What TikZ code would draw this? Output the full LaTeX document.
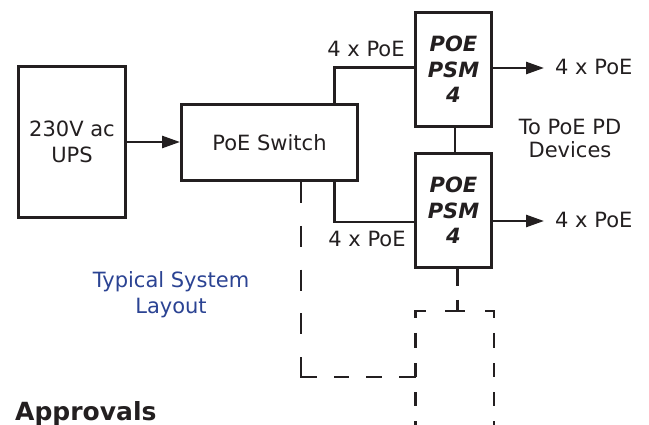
\documentclass[tikz,border=0pt]{standalone}
\usepackage{fontspec}
\setmainfont{DejaVu Sans}
\usetikzlibrary{arrows.meta}
\definecolor{ink}{RGB}{35,31,32}
\definecolor{navy}{RGB}{43,67,147}
\begin{document}
\begin{tikzpicture}[x=1pt,y=-1pt,
  box/.style={draw=ink, line width=2.6pt, inner sep=0pt, align=center, text=ink, font=\fontsize{21}{26}\selectfont},
  psm/.style={box, minimum width=76.4pt, minimum height=114.4pt, font=\fontsize{21}{25.5}\selectfont\bfseries\itshape},
  conn/.style={draw=ink, line width=2.6pt, line join=miter},
  arr/.style={conn, -{Triangle[length=18pt,width=12pt]}},
  lbl/.style={text=ink, inner sep=0pt, font=\fontsize{21}{23}\selectfont},
]
\useasboundingbox (0,0) rectangle (649,425);
\fill[white] (0,0) rectangle (649,425);

% blocks
\node[box, minimum width=107.4pt, minimum height=151.4pt] (ups) at (72,142) {230V ac\\UPS};
\node[box, minimum width=176.4pt, minimum height=76.4pt] (sw) at (269.5,142.5) {PoE Switch};
\node[psm] (pa) at (453.5,69.5) {POE\\PSM\\4};
\node[psm] (pb) at (453.5,210.5) {POE\\PSM\\4};

% solid connectors
\draw[arr] (ups.east) -- (ups.east -| sw.west);
\draw[conn] ([xshift=-24.7pt]sw.north east) |- ([yshift=2pt]pa.west);
\draw[conn] ([xshift=-24.7pt]sw.south east) |- ([yshift=-11.5pt]pb.west);
\draw[conn] ([xshift=1.5pt]pa.south) -- ([xshift=1.5pt]pb.north);

\coordinate (ta) at (544,68);
\coordinate (tb) at (544,221);
\draw[arr] (pa.east |- ta) -- (ta);
\draw[arr] (pb.east |- tb) -- (tb);

% labels
\node[lbl, anchor=base] (l1) at (366,57) {4 x PoE};
\node[lbl, anchor=base] (l2) at (367,246.5) {4 x PoE};
\node[lbl, anchor=base west] (o1) at (555,75) {4 x PoE};
\node[lbl, anchor=base west] (o2) at (555,228) {4 x PoE};
\node[lbl, align=center] (to) at (570,138) {To PoE PD\\Devices};
\node[lbl, align=center, text=navy, font=\fontsize{21}{26}\selectfont] (tsl) at (171,294.5) {Typical System\\Layout};
\node[lbl, anchor=base west, font=\fontsize{25}{30}\selectfont\bfseries] (appr) at (15,420) {Approvals};

% dashed expansion
\coordinate (dc) at (301,377);
\coordinate (bl) at (415.5,311);
\coordinate (br) at (494,311);
\coordinate (bot) at (0,426);
\coordinate (tj) at (457.7,311);
\draw[conn, dash pattern=on 21pt off 22.8pt on 21pt off 22.8pt on 21pt off 22.8pt on 21pt off 22.8pt on 36pt off 17pt on 15pt off 17pt on 16pt off 17pt on 20pt]
  (sw.south -| dc) -- (dc) -- (dc -| bl);
\draw[conn, dash pattern=on 17pt off 15pt on 15pt off 15pt on 14pt off 15pt on 14pt off 15pt on 30pt]
  ([xshift=10pt]bl) -- (bl) -- (bl |- bot);
\draw[conn, dash pattern=on 16pt off 15pt on 15pt off 15pt on 14pt off 15pt on 14pt off 15pt on 30pt]
  ([xshift=-9pt]br) -- (br) -- (br |- bot);
\draw[conn, dash pattern=on 17pt off 14pt on 20pt] (pb.south -| tj) -- (tj);
\draw[conn] ([xshift=-12.7pt]tj) -- ([xshift=7.3pt]tj);
\end{tikzpicture}
\end{document}
